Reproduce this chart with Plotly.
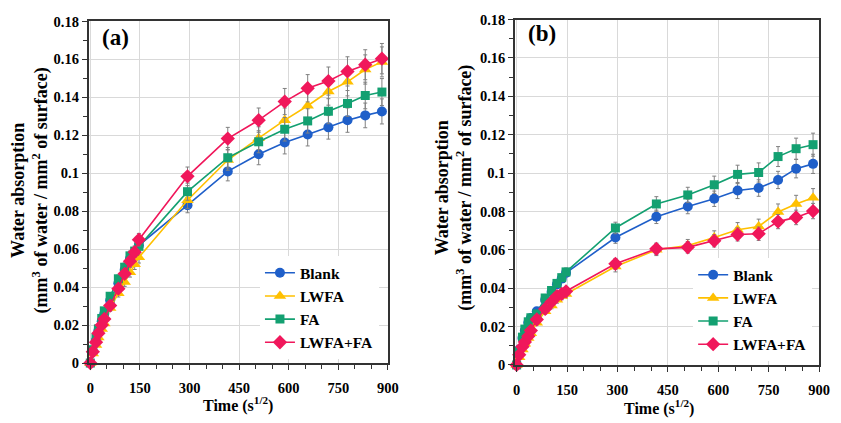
import plotly.graph_objects as go

# ---- data ----
time_sqrt = [0, 7.7, 17.3, 24.5, 34.6, 42.4, 60.0, 84.9, 103.9, 120.0, 134.2, 147.0,
             293.9, 415.7, 509.1, 587.9, 657.3, 720.0, 777.7, 831.4, 881.8]

series_names = ["Blank", "LWFA", "FA", "LWFA+FA"]

blank_a = [0, 0.006, 0.012, 0.017, 0.022, 0.026, 0.033, 0.042, 0.049, 0.055, 0.058, 0.062,
           0.0832, 0.101, 0.110, 0.1162, 0.1204, 0.1242, 0.128, 0.1305, 0.1326]
lwfa_a = [0, 0.005, 0.0095, 0.0135, 0.018, 0.0208, 0.029, 0.0368, 0.0427, 0.0478, 0.052, 0.0557,
          0.0858, 0.107, 0.1185, 0.128, 0.1356, 0.1431, 0.1482, 0.1547, 0.1587]
fa_a = [0, 0.007, 0.0133, 0.018, 0.0235, 0.0275, 0.0352, 0.0444, 0.0505, 0.0565, 0.059, 0.0615,
        0.0903, 0.1082, 0.1166, 0.1232, 0.1276, 0.1327, 0.1368, 0.141, 0.1428]
mix_a = [0, 0.006, 0.011, 0.0157, 0.020, 0.0232, 0.0303, 0.0392, 0.047, 0.0537, 0.0584, 0.065,
         0.0984, 0.1183, 0.128, 0.1378, 0.1448, 0.1486, 0.1537, 0.1572, 0.1604]

err_blank_a = [0, 0.0005, 0.0008, 0.001, 0.0012, 0.0014, 0.0017, 0.002, 0.0023, 0.0025, 0.0027, 0.003,
               0.004, 0.005, 0.0055, 0.006, 0.006, 0.0062, 0.0064, 0.0065, 0.0066]
err_lwfa_a = [0, 0.0005, 0.0008, 0.001, 0.0012, 0.0014, 0.0017, 0.002, 0.0023, 0.0025, 0.0027, 0.003,
              0.0043, 0.0054, 0.006, 0.0064, 0.0068, 0.0072, 0.0074, 0.0077, 0.0079]
err_fa_a = [0, 0.0005, 0.0008, 0.001, 0.0012, 0.0014, 0.0017, 0.002, 0.0023, 0.0025, 0.0027, 0.0031,
            0.0045, 0.0054, 0.0058, 0.0062, 0.0064, 0.0066, 0.0068, 0.007, 0.0071]
err_mix_a = [0, 0.0005, 0.0008, 0.001, 0.0012, 0.0014, 0.0017, 0.002, 0.0023, 0.0025, 0.0027, 0.0033,
             0.0049, 0.0059, 0.0064, 0.0069, 0.0072, 0.0074, 0.0077, 0.0079, 0.008]

blank_b = [0, 0.008, 0.014, 0.018, 0.022, 0.0245, 0.028, 0.034, 0.038, 0.042, 0.045, 0.048,
           0.0664, 0.0772, 0.0826, 0.0866, 0.0909, 0.0922, 0.0964, 0.1023, 0.1048]
lwfa_b = [0, 0.004, 0.008, 0.011, 0.014, 0.0165, 0.022, 0.028, 0.031, 0.034, 0.036, 0.037,
          0.0513, 0.0600, 0.0622, 0.0664, 0.0705, 0.0722, 0.0797, 0.0839, 0.0872]
fa_b = [0, 0.007, 0.0145, 0.0187, 0.0225, 0.0246, 0.0266, 0.0349, 0.0388, 0.0425, 0.0455, 0.0485,
        0.0714, 0.0839, 0.0886, 0.0939, 0.0993, 0.1003, 0.1086, 0.1127, 0.1148]
mix_b = [0, 0.0053, 0.0095, 0.012, 0.015, 0.0179, 0.0237, 0.0292, 0.0329, 0.0359, 0.0371, 0.0384,
         0.0527, 0.0605, 0.0613, 0.0647, 0.068, 0.0684, 0.0747, 0.0769, 0.0802]

err_blank_b = [0, 0.0005, 0.0007, 0.0008, 0.001, 0.0011, 0.0012, 0.0015, 0.0017, 0.0018, 0.002, 0.002,
               0.003, 0.0035, 0.0038, 0.004, 0.0042, 0.0043, 0.0045, 0.0048, 0.005]
err_lwfa_b = [0, 0.0005, 0.0007, 0.0008, 0.001, 0.0011, 0.0012, 0.0015, 0.0017, 0.0018, 0.002, 0.002,
              0.0028, 0.003, 0.0032, 0.0035, 0.0037, 0.0038, 0.0042, 0.0045, 0.0047]
err_fa_b = [0, 0.0005, 0.0007, 0.0008, 0.001, 0.0011, 0.0012, 0.0015, 0.0017, 0.0018, 0.002, 0.002,
            0.003, 0.0038, 0.004, 0.0045, 0.0048, 0.005, 0.0052, 0.0055, 0.006]
err_mix_b = [0, 0.0005, 0.0007, 0.0008, 0.001, 0.0011, 0.0012, 0.0015, 0.0017, 0.0018, 0.002, 0.002,
             0.0028, 0.003, 0.003, 0.0032, 0.0034, 0.0035, 0.0037, 0.0038, 0.004]

x_tickvals = [0, 150, 300, 450, 600, 750, 900]
x_ticktext = ["0", "150", "300", "450", "600", "750", "900"]
y_tickvals = [0, 0.02, 0.04, 0.06, 0.08, 0.1, 0.12, 0.14, 0.16, 0.18]
y_ticktext = ["0", "0.02", "0.04", "0.06", "0.08", "0.1", "0.12", "0.14", "0.16", "0.18"]

# ---- styles ----
colors = ["#1F5FC9", "#FFC000", "#13A071", "#F0175B"]
symbols = ["circle", "triangle-up", "square", "diamond"]
sizes = [10, 11, 9, 11]
FONT = "Liberation Serif, Times New Roman, serif"
W, H = 841, 423

fig = go.Figure()

panels = [
    ("x", "y", "legend", "a", [blank_a, lwfa_a, fa_a, mix_a], [err_blank_a, err_lwfa_a, err_fa_a, err_mix_a]),
    ("x2", "y2", "legend2", "b", [blank_b, lwfa_b, fa_b, mix_b], [err_blank_b, err_lwfa_b, err_fa_b, err_mix_b]),
]
for xa, ya, leg, tag, ys, errs in panels:
    for i, name in enumerate(series_names):
        fig.add_trace(go.Scatter(
            x=time_sqrt, y=ys[i], name=name, mode="lines+markers",
            xaxis=xa, yaxis=ya, legend=leg, legendgroup=f"{tag}{i}",
            line=dict(color=colors[i], width=1.6),
            marker=dict(symbol=symbols[i], size=sizes[i], color=colors[i], line=dict(width=0)),
            error_y=dict(type="data", array=errs[i], color="#808080", thickness=1, width=2),
            cliponaxis=False,
        ))

def px_x(v):
    return v / W

def px_y(v):
    return 1 - v / H

axis_common = dict(
    showgrid=True, gridcolor="#D9D9D9", gridwidth=1,
    showline=True, linecolor="#333333", linewidth=1.5, mirror=True,
    ticks="outside", ticklen=5, tickcolor="#333333", tickwidth=1,
    tickfont=dict(family=FONT, size=14.5, color="black", weight="bold"),
    zeroline=False,
)

xa_common = dict(axis_common, range=[-5, 900], tickmode="array", tickvals=x_tickvals, ticktext=x_ticktext,
                 ticklabelstandoff=6,
                 minor=dict(dtick=50, tick0=0, ticks="outside", ticklen=4, tickcolor="#333333", showgrid=False))
ya_common = dict(axis_common, range=[0, 0.18], tickmode="array", tickvals=y_tickvals, ticktext=y_ticktext,
                 minor=dict(dtick=0.01, tick0=0, ticks="outside", ticklen=4, tickcolor="#333333", showgrid=False))

legend_common = dict(
    font=dict(family=FONT, size=15.5, color="black", weight="bold"),
    bgcolor="white", borderwidth=0, xanchor="left", yanchor="top",
    tracegroupgap=0, traceorder="grouped", itemwidth=30,
)

fig.update_layout(
    width=W, height=H, margin=dict(l=0, r=0, t=0, b=0),
    paper_bgcolor="white", plot_bgcolor="white",
    xaxis=dict(xa_common, domain=[px_x(88), px_x(392)], anchor="y"),
    yaxis=dict(ya_common, domain=[px_y(369), px_y(14)], anchor="x"),
    xaxis2=dict(xa_common, domain=[px_x(521), px_x(830)], anchor="y2"),
    yaxis2=dict(ya_common, domain=[px_y(371), px_y(12)], anchor="x2"),
    legend=dict(legend_common, x=px_x(262), y=px_y(258)),
    legend2=dict(legend_common, x=px_x(702), y=px_y(260)),
    showlegend=True,
)

title_font = dict(family=FONT, size=18, color="black", weight="bold")
annotations = [
    dict(text="(a)", x=px_x(115), y=px_y(31), font=dict(family=FONT, size=23, color="black", weight="bold")),
    dict(text="(b)", x=px_x(548), y=px_y(27), font=dict(family=FONT, size=23, color="black", weight="bold")),
    dict(text="Water absorption<br>(mm<sup>3</sup> of water / mm<sup>2</sup> of surface)",
         x=px_x(28), y=px_y(190), textangle=-90, font=title_font),
    dict(text="Water absorption<br>(mm<sup>3</sup> of water / mm<sup>2</sup> of surface)",
         x=px_x(459), y=px_y(187), textangle=-90, font=title_font),
    dict(text="Time (s<sup>1/2</sup>)", x=px_x(240), y=px_y(412), font=dict(family=FONT, size=16, color="black", weight="bold")),
    dict(text="Time (s<sup>1/2</sup>)", x=px_x(667), y=px_y(415), font=dict(family=FONT, size=16, color="black", weight="bold")),
]
for a in annotations:
    a.update(xref="paper", yref="paper", showarrow=False, xanchor="center", yanchor="middle")
fig.update_layout(annotations=annotations)

fig.write_html("out.html")
